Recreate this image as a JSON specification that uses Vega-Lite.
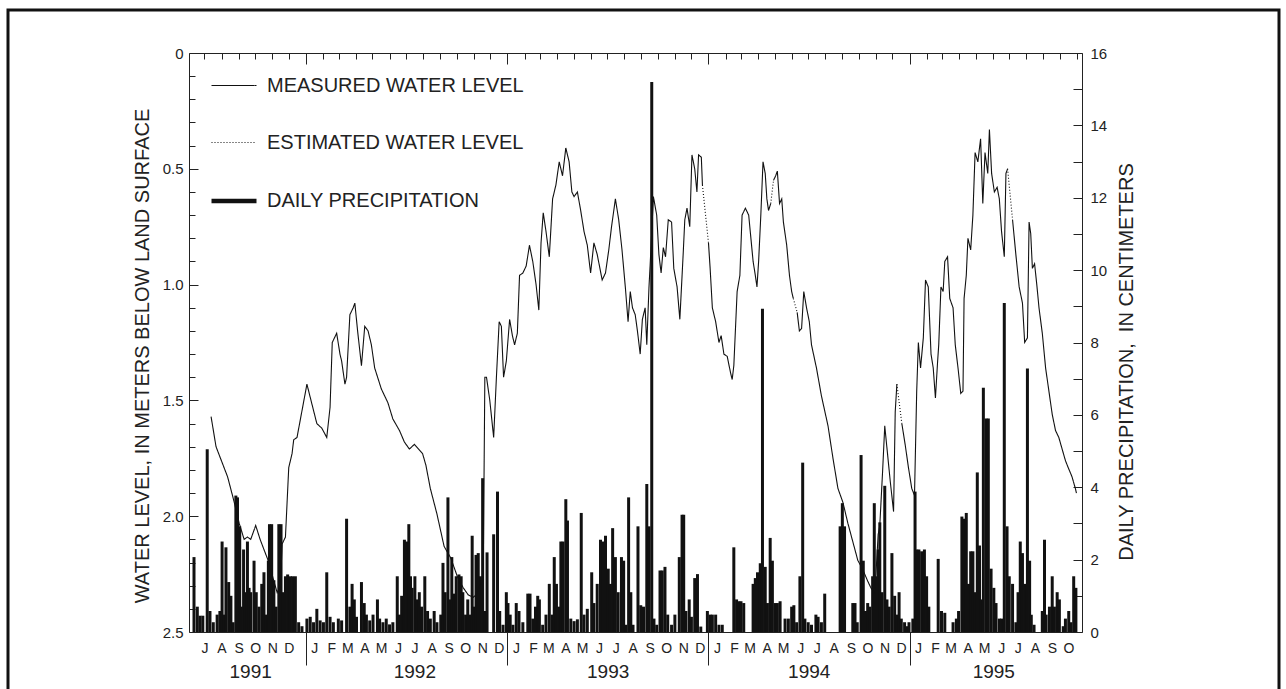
{
  "$schema": "https://vega.github.io/schema/vega-lite/v6.json",
  "width": 1271,
  "height": 683,
  "padding": {"left": 8, "top": 10, "right": 7, "bottom": 0},
  "autosize": {"type": "none"},
  "background": "white",
  "config": {
    "view": {"stroke": "#111", "strokeWidth": 3, "fill": "white"},
    "axis": {
      "grid": false,
      "domainColor": "#222",
      "domainWidth": 1,
      "tickColor": "#222",
      "tickWidth": 1,
      "labelColor": "#222",
      "labelFont": "Liberation Sans",
      "titleFont": "Liberation Sans",
      "titleFontWeight": "normal",
      "titleColor": "#222",
      "labelOverlap": false,
      "labelFlush": false,
      "labelBound": false
    }
  },
  "datasets": {
    "rain": [
      {"d":"1991-06-12","p":2.07},{"d":"1991-06-18","p":0.7},{"d":"1991-06-23","p":0.45},{"d":"1991-06-28","p":0.45},
      {"d":"1991-07-06","p":5.05},{"d":"1991-07-11","p":0.58},{"d":"1991-07-17","p":0.27},{"d":"1991-07-24","p":0.48},{"d":"1991-07-29","p":0.58},
      {"d":"1991-08-02","p":2.5},{"d":"1991-08-05","p":0.48},{"d":"1991-08-09","p":2.34},{"d":"1991-08-14","p":1.38},{"d":"1991-08-18","p":1.0},{"d":"1991-08-22","p":0.27},{"d":"1991-08-27","p":3.77},{"d":"1991-08-30","p":3.72},
      {"d":"1991-09-03","p":2.92},{"d":"1991-09-06","p":0.7},{"d":"1991-09-10","p":2.28},{"d":"1991-09-13","p":1.1},{"d":"1991-09-17","p":2.5},{"d":"1991-09-20","p":1.22},{"d":"1991-09-23","p":1.1},{"d":"1991-09-29","p":1.97},
      {"d":"1991-10-03","p":1.1},{"d":"1991-10-08","p":0.7},{"d":"1991-10-13","p":1.33},{"d":"1991-10-17","p":1.65},{"d":"1991-10-21","p":0.48},{"d":"1991-10-25","p":1.97},{"d":"1991-10-27","p":2.98},{"d":"1991-10-31","p":2.98},
      {"d":"1991-11-04","p":1.43},{"d":"1991-11-08","p":0.7},{"d":"1991-11-13","p":2.98},{"d":"1991-11-17","p":2.98},{"d":"1991-11-20","p":1.1},{"d":"1991-11-25","p":1.54},{"d":"1991-11-29","p":1.59},
      {"d":"1991-12-04","p":1.54},{"d":"1991-12-08","p":1.54},{"d":"1991-12-13","p":1.54},{"d":"1991-12-19","p":0.27},{"d":"1991-12-25","p":0.16},
      {"d":"1992-01-03","p":0.37},{"d":"1992-01-09","p":0.42},{"d":"1992-01-15","p":0.27},{"d":"1992-01-21","p":0.64},{"d":"1992-01-27","p":0.32},
      {"d":"1992-02-02","p":0.27},{"d":"1992-02-08","p":1.65},{"d":"1992-02-14","p":0.42},{"d":"1992-02-20","p":0.27},{"d":"1992-02-29","p":0.37},
      {"d":"1992-03-06","p":0.32},{"d":"1992-03-15","p":3.13},{"d":"1992-03-21","p":0.7},{"d":"1992-03-25","p":1.33},{"d":"1992-03-29","p":0.9},
      {"d":"1992-04-02","p":0.42},{"d":"1992-04-11","p":1.38},{"d":"1992-04-16","p":0.8},{"d":"1992-04-20","p":0.48},{"d":"1992-04-26","p":0.32},
      {"d":"1992-05-02","p":0.48},{"d":"1992-05-10","p":0.9},{"d":"1992-05-14","p":0.37},{"d":"1992-05-20","p":0.27},{"d":"1992-05-26","p":0.37},
      {"d":"1992-06-01","p":0.21},{"d":"1992-06-07","p":0.27},{"d":"1992-06-15","p":1.54},{"d":"1992-06-19","p":0.48},{"d":"1992-06-23","p":1.0},{"d":"1992-06-28","p":2.55},
      {"d":"1992-07-02","p":2.5},{"d":"1992-07-06","p":2.98},{"d":"1992-07-09","p":1.54},{"d":"1992-07-12","p":1.22},{"d":"1992-07-17","p":1.54},{"d":"1992-07-21","p":0.9},{"d":"1992-07-25","p":1.1},{"d":"1992-07-29","p":0.7},
      {"d":"1992-08-04","p":1.54},{"d":"1992-08-09","p":0.58},{"d":"1992-08-14","p":0.37},{"d":"1992-08-21","p":0.58},{"d":"1992-08-26","p":0.27},
      {"d":"1992-09-02","p":0.48},{"d":"1992-09-06","p":1.91},{"d":"1992-09-10","p":1.1},{"d":"1992-09-15","p":3.72},{"d":"1992-09-18","p":0.9},{"d":"1992-09-22","p":2.07},{"d":"1992-09-26","p":1.06},{"d":"1992-09-30","p":1.54},
      {"d":"1992-10-05","p":1.59},{"d":"1992-10-09","p":1.54},{"d":"1992-10-12","p":1.1},{"d":"1992-10-17","p":0.48},{"d":"1992-10-21","p":0.9},{"d":"1992-10-26","p":0.48},{"d":"1992-10-29","p":2.66},
      {"d":"1992-11-01","p":0.7},{"d":"1992-11-05","p":2.13},{"d":"1992-11-09","p":2.18},{"d":"1992-11-13","p":1.54},{"d":"1992-11-17","p":4.25},{"d":"1992-11-21","p":0.58},{"d":"1992-11-25","p":2.2},
      {"d":"1992-12-07","p":2.7},{"d":"1992-12-14","p":3.88},{"d":"1992-12-18","p":0.58},{"d":"1992-12-24","p":0.2},{"d":"1992-12-30","p":1.1},
      {"d":"1993-01-02","p":0.8},{"d":"1993-01-06","p":0.48},{"d":"1993-01-11","p":0.2},{"d":"1993-01-17","p":0.8},{"d":"1993-01-22","p":0.58},{"d":"1993-01-29","p":0.27},
      {"d":"1993-02-07","p":1.06},{"d":"1993-02-11","p":1.06},{"d":"1993-02-16","p":0.37},{"d":"1993-02-21","p":0.7},{"d":"1993-02-25","p":1.0},{"d":"1993-02-28","p":0.9},
      {"d":"1993-03-06","p":0.2},{"d":"1993-03-12","p":0.48},{"d":"1993-03-18","p":1.33},{"d":"1993-03-23","p":0.48},{"d":"1993-03-27","p":2.07},{"d":"1993-03-31","p":1.33},
      {"d":"1993-04-04","p":0.7},{"d":"1993-04-08","p":2.5},{"d":"1993-04-12","p":2.5},{"d":"1993-04-17","p":3.67},{"d":"1993-04-20","p":3.08},{"d":"1993-04-26","p":0.37},
      {"d":"1993-05-02","p":0.3},{"d":"1993-05-08","p":0.35},{"d":"1993-05-15","p":3.29},{"d":"1993-05-20","p":0.48},{"d":"1993-05-26","p":0.64},
      {"d":"1993-06-03","p":1.65},{"d":"1993-06-07","p":0.8},{"d":"1993-06-13","p":1.33},{"d":"1993-06-19","p":2.55},{"d":"1993-06-23","p":2.5},{"d":"1993-06-28","p":2.66},
      {"d":"1993-07-03","p":1.75},{"d":"1993-07-07","p":1.33},{"d":"1993-07-11","p":2.87},{"d":"1993-07-16","p":2.07},{"d":"1993-07-21","p":1.1},{"d":"1993-07-27","p":2.07},{"d":"1993-07-31","p":1.97},
      {"d":"1993-08-04","p":0.2},{"d":"1993-08-09","p":3.72},{"d":"1993-08-13","p":1.1},{"d":"1993-08-17","p":0.2},{"d":"1993-08-26","p":2.92},{"d":"1993-08-31","p":0.74},
      {"d":"1993-09-05","p":0.7},{"d":"1993-09-11","p":4.09},{"d":"1993-09-15","p":2.92},{"d":"1993-09-20","p":15.2},{"d":"1993-09-24","p":0.37},{"d":"1993-09-29","p":0.2},
      {"d":"1993-10-05","p":1.7},{"d":"1993-10-09","p":1.7},{"d":"1993-10-14","p":1.8},{"d":"1993-10-19","p":0.48},{"d":"1993-10-26","p":0.2},
      {"d":"1993-11-01","p":0.48},{"d":"1993-11-09","p":2.07},{"d":"1993-11-14","p":3.24},{"d":"1993-11-17","p":3.24},{"d":"1993-11-21","p":0.58},{"d":"1993-11-27","p":0.9},
      {"d":"1993-12-01","p":0.42},{"d":"1993-12-07","p":1.49},{"d":"1993-12-12","p":1.6},{"d":"1993-12-18","p":0.15},{"d":"1993-12-30","p":0.58},
      {"d":"1994-01-04","p":0.48},{"d":"1994-01-08","p":0.48},{"d":"1994-01-14","p":0.48},{"d":"1994-01-20","p":0.2},{"d":"1994-01-26","p":0.2},
      {"d":"1994-02-16","p":2.34},{"d":"1994-02-21","p":0.9},{"d":"1994-02-25","p":0.85},
      {"d":"1994-03-01","p":0.85},{"d":"1994-03-06","p":0.8},{"d":"1994-03-23","p":1.33},{"d":"1994-03-27","p":1.49},{"d":"1994-03-31","p":1.65},
      {"d":"1994-04-05","p":1.9},{"d":"1994-04-09","p":8.93},{"d":"1994-04-14","p":1.8},{"d":"1994-04-18","p":0.8},{"d":"1994-04-23","p":2.6},{"d":"1994-04-27","p":1.97},
      {"d":"1994-05-02","p":0.8},{"d":"1994-05-06","p":0.8},{"d":"1994-05-11","p":0.85},{"d":"1994-05-20","p":0.37},{"d":"1994-05-26","p":0.37},
      {"d":"1994-06-01","p":0.7},{"d":"1994-06-05","p":0.74},{"d":"1994-06-10","p":0.27},{"d":"1994-06-16","p":1.54},{"d":"1994-06-21","p":4.68},{"d":"1994-06-25","p":0.37},
      {"d":"1994-07-01","p":0.27},{"d":"1994-07-07","p":0.2},{"d":"1994-07-15","p":0.48},{"d":"1994-07-19","p":0.42},{"d":"1994-07-25","p":0.27},{"d":"1994-07-31","p":1.06},
      {"d":"1994-08-28","p":2.92},{"d":"1994-09-01","p":3.56},{"d":"1994-09-05","p":2.92},{"d":"1994-09-20","p":0.8},{"d":"1994-09-24","p":0.8},{"d":"1994-09-28","p":0.27},
      {"d":"1994-10-05","p":4.89},{"d":"1994-10-09","p":1.97},{"d":"1994-10-13","p":0.58},{"d":"1994-10-17","p":0.8},{"d":"1994-10-21","p":0.7},{"d":"1994-10-26","p":1.54},{"d":"1994-10-29","p":3.56},
      {"d":"1994-11-02","p":1.54},{"d":"1994-11-05","p":2.28},{"d":"1994-11-08","p":3.03},{"d":"1994-11-12","p":1.1},{"d":"1994-11-17","p":4.04},{"d":"1994-11-21","p":0.9},{"d":"1994-11-25","p":0.7},{"d":"1994-11-30","p":2.18},
      {"d":"1994-12-05","p":1.0},{"d":"1994-12-09","p":0.48},{"d":"1994-12-13","p":1.1},{"d":"1994-12-17","p":0.37},{"d":"1994-12-23","p":0.27},{"d":"1994-12-27","p":0.16},{"d":"1994-12-31","p":0.27},
      {"d":"1995-01-07","p":0.37},{"d":"1995-01-11","p":3.88},{"d":"1995-01-14","p":2.28},{"d":"1995-01-18","p":2.28},{"d":"1995-01-23","p":2.23},{"d":"1995-01-28","p":2.28},
      {"d":"1995-02-01","p":1.54},{"d":"1995-02-05","p":0.7},{"d":"1995-02-22","p":2.02},{"d":"1995-02-28","p":0.58},
      {"d":"1995-03-06","p":0.53},{"d":"1995-03-21","p":0.27},{"d":"1995-03-27","p":0.37},{"d":"1995-03-31","p":0.58},
      {"d":"1995-04-06","p":3.19},{"d":"1995-04-10","p":3.13},{"d":"1995-04-14","p":3.29},{"d":"1995-04-18","p":1.33},{"d":"1995-04-22","p":2.23},{"d":"1995-04-26","p":2.23},{"d":"1995-04-29","p":1.1},
      {"d":"1995-05-04","p":4.41},{"d":"1995-05-08","p":2.39},{"d":"1995-05-11","p":0.9},{"d":"1995-05-15","p":6.75},{"d":"1995-05-20","p":5.9},{"d":"1995-05-24","p":5.9},{"d":"1995-05-29","p":1.75},
      {"d":"1995-06-03","p":1.22},{"d":"1995-06-07","p":0.8},{"d":"1995-06-13","p":0.37},{"d":"1995-06-17","p":0.37},{"d":"1995-06-22","p":9.09},{"d":"1995-06-27","p":2.92},
      {"d":"1995-07-01","p":1.54},{"d":"1995-07-07","p":1.33},{"d":"1995-07-13","p":0.27},{"d":"1995-07-17","p":1.1},{"d":"1995-07-21","p":2.5},{"d":"1995-07-25","p":2.18},{"d":"1995-07-29","p":1.33},
      {"d":"1995-08-03","p":7.28},{"d":"1995-08-07","p":1.97},{"d":"1995-08-10","p":0.48},{"d":"1995-08-15","p":0.2},{"d":"1995-08-30","p":0.58},
      {"d":"1995-09-03","p":2.55},{"d":"1995-09-06","p":0.48},{"d":"1995-09-12","p":0.7},{"d":"1995-09-17","p":1.54},{"d":"1995-09-21","p":0.7},{"d":"1995-09-26","p":1.1},{"d":"1995-09-30","p":0.9},
      {"d":"1995-10-07","p":0.16},{"d":"1995-10-11","p":0.37},{"d":"1995-10-17","p":0.58},{"d":"1995-10-21","p":0.27},{"d":"1995-10-26","p":1.54},{"d":"1995-10-30","p":1.22}
    ],
    "level": [
      {"d":"1991-07-13","w":1.57,"k":"m","s":1},{"d":"1991-07-22","w":1.70,"k":"m","s":1},{"d":"1991-08-12","w":1.83,"k":"m","s":1},{"d":"1991-08-23","w":1.93,"k":"m","s":1},
      {"d":"1991-09-02","w":2.03,"k":"m","s":1},{"d":"1991-09-11","w":2.10,"k":"m","s":1},{"d":"1991-09-17","w":2.09,"k":"m","s":1},{"d":"1991-09-23","w":2.10,"k":"m","s":1},
      {"d":"1991-10-02","w":2.04,"k":"m","s":1},{"d":"1991-10-10","w":2.10,"k":"m","s":1},{"d":"1991-10-18","w":2.15,"k":"m","s":1},{"d":"1991-10-26","w":2.20,"k":"m","s":1},
      {"d":"1991-11-04","w":2.28,"k":"m","s":1},{"d":"1991-11-10","w":2.33,"k":"m","s":1},{"d":"1991-11-16","w":2.30,"k":"m","s":1},{"d":"1991-11-19","w":2.12,"k":"m","s":1},{"d":"1991-11-25","w":2.09,"k":"m","s":1},
      {"d":"1991-12-01","w":1.79,"k":"m","s":1},{"d":"1991-12-07","w":1.73,"k":"m","s":1},{"d":"1991-12-10","w":1.67,"k":"m","s":1},{"d":"1991-12-16","w":1.66,"k":"m","s":1},
      {"d":"1992-01-03","w":1.43,"k":"m","s":1},{"d":"1992-01-21","w":1.60,"k":"m","s":1},{"d":"1992-01-30","w":1.62,"k":"m","s":1},
      {"d":"1992-02-08","w":1.66,"k":"m","s":1},{"d":"1992-02-14","w":1.53,"k":"m","s":1},{"d":"1992-02-18","w":1.25,"k":"m","s":1},{"d":"1992-02-26","w":1.21,"k":"m","s":1},
      {"d":"1992-03-03","w":1.30,"k":"m","s":1},{"d":"1992-03-06","w":1.33,"k":"m","s":1},{"d":"1992-03-12","w":1.43,"k":"m","s":1},{"d":"1992-03-15","w":1.40,"k":"m","s":1},{"d":"1992-03-21","w":1.13,"k":"m","s":1},{"d":"1992-03-27","w":1.10,"k":"m","s":1},{"d":"1992-03-30","w":1.08,"k":"m","s":1},
      {"d":"1992-04-04","w":1.20,"k":"m","s":1},{"d":"1992-04-11","w":1.35,"k":"m","s":1},{"d":"1992-04-17","w":1.18,"k":"m","s":1},{"d":"1992-04-23","w":1.20,"k":"m","s":1},{"d":"1992-04-29","w":1.26,"k":"m","s":1},
      {"d":"1992-05-05","w":1.36,"k":"m","s":1},{"d":"1992-05-17","w":1.45,"k":"m","s":1},{"d":"1992-05-29","w":1.51,"k":"m","s":1},
      {"d":"1992-06-07","w":1.58,"k":"m","s":1},{"d":"1992-06-19","w":1.63,"k":"m","s":1},{"d":"1992-06-28","w":1.68,"k":"m","s":1},
      {"d":"1992-07-07","w":1.71,"k":"m","s":1},{"d":"1992-07-16","w":1.69,"k":"m","s":1},{"d":"1992-07-31","w":1.73,"k":"m","s":1},
      {"d":"1992-08-06","w":1.78,"k":"m","s":1},{"d":"1992-08-14","w":1.88,"k":"m","s":1},{"d":"1992-08-26","w":1.99,"k":"m","s":1},
      {"d":"1992-09-08","w":2.13,"k":"m","s":1},{"d":"1992-09-20","w":2.18,"k":"m","s":1},
      {"d":"1992-10-02","w":2.26,"k":"m","s":1},{"d":"1992-10-13","w":2.31,"k":"m","s":1},{"d":"1992-10-22","w":2.34,"k":"m","s":1},{"d":"1992-10-31","w":2.35,"k":"m","s":1},
      {"d":"1992-11-05","w":2.34,"k":"m","s":1},{"d":"1992-11-12","w":2.30,"k":"m","s":1},{"d":"1992-11-18","w":2.28,"k":"m","s":1},{"d":"1992-11-21","w":1.40,"k":"m","s":1},{"d":"1992-11-24","w":1.40,"k":"m","s":1},{"d":"1992-11-30","w":1.50,"k":"m","s":1},
      {"d":"1992-12-07","w":1.66,"k":"m","s":1},{"d":"1992-12-12","w":1.40,"k":"m","s":1},{"d":"1992-12-17","w":1.16,"k":"m","s":1},{"d":"1992-12-21","w":1.18,"k":"m","s":1},{"d":"1992-12-25","w":1.40,"k":"m","s":1},{"d":"1992-12-30","w":1.33,"k":"m","s":1},
      {"d":"1993-01-05","w":1.15,"k":"m","s":1},{"d":"1993-01-10","w":1.22,"k":"m","s":1},{"d":"1993-01-14","w":1.26,"k":"m","s":1},{"d":"1993-01-19","w":1.21,"k":"m","s":1},{"d":"1993-01-23","w":0.96,"k":"m","s":1},{"d":"1993-01-29","w":0.95,"k":"m","s":1},
      {"d":"1993-02-04","w":0.92,"k":"m","s":1},{"d":"1993-02-10","w":0.83,"k":"m","s":1},{"d":"1993-02-16","w":0.90,"k":"m","s":1},{"d":"1993-02-22","w":1.00,"k":"m","s":1},{"d":"1993-02-27","w":1.11,"k":"m","s":1},
      {"d":"1993-03-03","w":0.82,"k":"m","s":1},{"d":"1993-03-07","w":0.69,"k":"m","s":1},{"d":"1993-03-12","w":0.77,"k":"m","s":1},{"d":"1993-03-18","w":0.88,"k":"m","s":1},{"d":"1993-03-24","w":0.63,"k":"m","s":1},{"d":"1993-03-30","w":0.57,"k":"m","s":1},
      {"d":"1993-04-05","w":0.47,"k":"m","s":1},{"d":"1993-04-11","w":0.53,"k":"m","s":1},{"d":"1993-04-17","w":0.41,"k":"m","s":1},{"d":"1993-04-23","w":0.47,"k":"m","s":1},{"d":"1993-04-28","w":0.60,"k":"m","s":1},
      {"d":"1993-05-02","w":0.62,"k":"m","s":1},{"d":"1993-05-08","w":0.60,"k":"m","s":1},{"d":"1993-05-14","w":0.68,"k":"m","s":1},{"d":"1993-05-20","w":0.77,"k":"m","s":1},{"d":"1993-05-26","w":0.83,"k":"m","s":1},
      {"d":"1993-06-01","w":0.95,"k":"m","s":1},{"d":"1993-06-07","w":0.82,"k":"m","s":1},{"d":"1993-06-13","w":0.87,"k":"m","s":1},{"d":"1993-06-22","w":0.98,"k":"m","s":1},{"d":"1993-06-28","w":0.95,"k":"m","s":1},
      {"d":"1993-07-04","w":0.85,"k":"m","s":1},{"d":"1993-07-09","w":0.75,"k":"m","s":1},{"d":"1993-07-16","w":0.63,"k":"m","s":1},{"d":"1993-07-22","w":0.72,"k":"m","s":1},{"d":"1993-07-28","w":0.85,"k":"m","s":1},
      {"d":"1993-08-03","w":1.01,"k":"m","s":1},{"d":"1993-08-08","w":1.16,"k":"m","s":1},{"d":"1993-08-12","w":1.03,"k":"m","s":1},{"d":"1993-08-16","w":1.10,"k":"m","s":1},{"d":"1993-08-21","w":1.13,"k":"m","s":1},{"d":"1993-08-25","w":1.20,"k":"m","s":1},{"d":"1993-08-30","w":1.30,"k":"m","s":1},
      {"d":"1993-09-03","w":1.15,"k":"m","s":1},{"d":"1993-09-08","w":1.10,"k":"m","s":1},{"d":"1993-09-11","w":1.26,"k":"m","s":1},{"d":"1993-09-15","w":1.01,"k":"m","s":1},{"d":"1993-09-17","w":0.92,"k":"m","s":1},{"d":"1993-09-23","w":0.62,"k":"m","s":1},{"d":"1993-09-29","w":0.70,"k":"m","s":1},
      {"d":"1993-10-03","w":0.87,"k":"m","s":1},{"d":"1993-10-07","w":0.95,"k":"m","s":1},{"d":"1993-10-11","w":0.84,"k":"m","s":1},{"d":"1993-10-15","w":0.88,"k":"m","s":1},{"d":"1993-10-20","w":0.72,"k":"m","s":1},{"d":"1993-10-26","w":0.73,"k":"m","s":1},{"d":"1993-10-30","w":0.93,"k":"m","s":1},
      {"d":"1993-11-05","w":1.01,"k":"m","s":1},{"d":"1993-11-10","w":1.15,"k":"m","s":1},{"d":"1993-11-16","w":0.87,"k":"m","s":1},{"d":"1993-11-19","w":0.72,"k":"m","s":1},{"d":"1993-11-23","w":0.67,"k":"m","s":1},{"d":"1993-11-28","w":0.75,"k":"m","s":1},
      {"d":"1993-12-02","w":0.44,"k":"m","s":1},{"d":"1993-12-07","w":0.50,"k":"m","s":1},{"d":"1993-12-11","w":0.60,"k":"m","s":1},{"d":"1993-12-14","w":0.44,"k":"m","s":1},{"d":"1993-12-19","w":0.45,"k":"m","s":1},{"d":"1993-12-21","w":0.57,"k":"m","s":1},
      {"d":"1993-12-21","w":0.57,"k":"e","s":2},{"d":"1994-01-01","w":0.82,"k":"e","s":2},
      {"d":"1994-01-01","w":0.82,"k":"m","s":3},{"d":"1994-01-04","w":0.93,"k":"m","s":3},{"d":"1994-01-08","w":1.10,"k":"m","s":3},{"d":"1994-01-14","w":1.16,"k":"m","s":3},{"d":"1994-01-20","w":1.25,"k":"m","s":3},{"d":"1994-01-24","w":1.22,"k":"m","s":3},{"d":"1994-01-29","w":1.30,"k":"m","s":3},
      {"d":"1994-02-04","w":1.31,"k":"m","s":3},{"d":"1994-02-10","w":1.38,"k":"m","s":3},{"d":"1994-02-13","w":1.41,"k":"m","s":3},{"d":"1994-02-16","w":1.35,"k":"m","s":3},{"d":"1994-02-22","w":1.03,"k":"m","s":3},{"d":"1994-02-27","w":0.96,"k":"m","s":3},
      {"d":"1994-03-03","w":0.70,"k":"m","s":3},{"d":"1994-03-09","w":0.67,"k":"m","s":3},{"d":"1994-03-15","w":0.70,"k":"m","s":3},{"d":"1994-03-19","w":0.80,"k":"m","s":3},{"d":"1994-03-23","w":0.90,"k":"m","s":3},{"d":"1994-03-27","w":0.96,"k":"m","s":3},{"d":"1994-03-30","w":1.01,"k":"m","s":3},
      {"d":"1994-04-02","w":0.90,"k":"m","s":3},{"d":"1994-04-06","w":0.70,"k":"m","s":3},{"d":"1994-04-10","w":0.47,"k":"m","s":3},{"d":"1994-04-14","w":0.52,"k":"m","s":3},{"d":"1994-04-17","w":0.63,"k":"m","s":3},{"d":"1994-04-20","w":0.68,"k":"m","s":3},{"d":"1994-04-24","w":0.65,"k":"m","s":3},
      {"d":"1994-04-24","w":0.65,"k":"e","s":4},{"d":"1994-04-29","w":0.55,"k":"e","s":4},
      {"d":"1994-04-29","w":0.55,"k":"m","s":5},{"d":"1994-05-03","w":0.53,"k":"m","s":5},{"d":"1994-05-06","w":0.51,"k":"m","s":5},{"d":"1994-05-10","w":0.65,"k":"m","s":5},{"d":"1994-05-14","w":0.63,"k":"m","s":5},{"d":"1994-05-17","w":0.73,"k":"m","s":5},{"d":"1994-05-23","w":0.83,"k":"m","s":5},{"d":"1994-05-28","w":0.96,"k":"m","s":5},{"d":"1994-06-01","w":1.03,"k":"m","s":5},{"d":"1994-06-04","w":1.06,"k":"m","s":5},
      {"d":"1994-06-04","w":1.06,"k":"e","s":6},{"d":"1994-06-11","w":1.12,"k":"e","s":6},
      {"d":"1994-06-11","w":1.12,"k":"m","s":7},{"d":"1994-06-15","w":1.20,"k":"m","s":7},{"d":"1994-06-19","w":1.19,"k":"m","s":7},{"d":"1994-06-23","w":1.03,"k":"m","s":7},{"d":"1994-06-28","w":1.10,"k":"m","s":7},
      {"d":"1994-07-03","w":1.16,"k":"m","s":7},{"d":"1994-07-07","w":1.26,"k":"m","s":7},{"d":"1994-07-16","w":1.36,"k":"m","s":7},{"d":"1994-07-25","w":1.48,"k":"m","s":7},
      {"d":"1994-08-06","w":1.61,"k":"m","s":7},{"d":"1994-08-15","w":1.75,"k":"m","s":7},{"d":"1994-08-24","w":1.88,"k":"m","s":7},
      {"d":"1994-09-02","w":1.94,"k":"m","s":7},{"d":"1994-09-11","w":2.03,"k":"m","s":7},{"d":"1994-09-20","w":2.11,"k":"m","s":7},{"d":"1994-09-29","w":2.19,"k":"m","s":7},
      {"d":"1994-10-08","w":2.23,"k":"m","s":7},{"d":"1994-10-17","w":2.28,"k":"m","s":7},{"d":"1994-10-23","w":2.31,"k":"m","s":7},{"d":"1994-10-29","w":2.33,"k":"m","s":7},
      {"d":"1994-11-01","w":2.25,"k":"m","s":7},{"d":"1994-11-05","w":2.08,"k":"m","s":7},{"d":"1994-11-08","w":2.04,"k":"m","s":7},{"d":"1994-11-13","w":1.81,"k":"m","s":7},{"d":"1994-11-17","w":1.61,"k":"m","s":7},{"d":"1994-11-22","w":1.73,"k":"m","s":7},{"d":"1994-11-27","w":1.85,"k":"m","s":7},
      {"d":"1994-12-03","w":1.98,"k":"m","s":7},{"d":"1994-12-06","w":1.55,"k":"m","s":7},{"d":"1994-12-09","w":1.43,"k":"m","s":7},
      {"d":"1994-12-09","w":1.43,"k":"e","s":8},{"d":"1994-12-18","w":1.60,"k":"e","s":8},
      {"d":"1994-12-18","w":1.60,"k":"m","s":9},{"d":"1994-12-24","w":1.69,"k":"m","s":9},{"d":"1994-12-30","w":1.79,"k":"m","s":9},
      {"d":"1995-01-05","w":1.88,"k":"m","s":9},{"d":"1995-01-10","w":1.91,"k":"m","s":9},{"d":"1995-01-14","w":1.46,"k":"m","s":9},{"d":"1995-01-17","w":1.25,"k":"m","s":9},{"d":"1995-01-21","w":1.36,"k":"m","s":9},{"d":"1995-01-26","w":1.23,"k":"m","s":9},{"d":"1995-01-30","w":0.98,"k":"m","s":9},
      {"d":"1995-02-04","w":1.01,"k":"m","s":9},{"d":"1995-02-09","w":1.30,"k":"m","s":9},{"d":"1995-02-13","w":1.36,"k":"m","s":9},{"d":"1995-02-17","w":1.49,"k":"m","s":9},{"d":"1995-02-21","w":1.33,"k":"m","s":9},{"d":"1995-02-23","w":1.26,"k":"m","s":9},{"d":"1995-02-27","w":1.01,"k":"m","s":9},
      {"d":"1995-03-03","w":1.03,"k":"m","s":9},{"d":"1995-03-06","w":0.90,"k":"m","s":9},{"d":"1995-03-11","w":0.88,"k":"m","s":9},{"d":"1995-03-15","w":1.06,"k":"m","s":9},{"d":"1995-03-21","w":1.10,"k":"m","s":9},{"d":"1995-03-25","w":1.26,"k":"m","s":9},{"d":"1995-03-30","w":1.36,"k":"m","s":9},
      {"d":"1995-04-04","w":1.47,"k":"m","s":9},{"d":"1995-04-08","w":1.46,"k":"m","s":9},{"d":"1995-04-10","w":1.06,"k":"m","s":9},{"d":"1995-04-14","w":0.96,"k":"m","s":9},{"d":"1995-04-17","w":0.80,"k":"m","s":9},{"d":"1995-04-22","w":0.85,"k":"m","s":9},{"d":"1995-04-26","w":0.70,"k":"m","s":9},{"d":"1995-04-30","w":0.43,"k":"m","s":9},
      {"d":"1995-05-05","w":0.47,"k":"m","s":9},{"d":"1995-05-10","w":0.37,"k":"m","s":9},{"d":"1995-05-14","w":0.65,"k":"m","s":9},{"d":"1995-05-18","w":0.43,"k":"m","s":9},{"d":"1995-05-23","w":0.52,"k":"m","s":9},{"d":"1995-05-26","w":0.33,"k":"m","s":9},{"d":"1995-05-30","w":0.52,"k":"m","s":9},
      {"d":"1995-06-04","w":0.60,"k":"m","s":9},{"d":"1995-06-09","w":0.58,"k":"m","s":9},{"d":"1995-06-13","w":0.63,"k":"m","s":9},{"d":"1995-06-17","w":0.77,"k":"m","s":9},{"d":"1995-06-22","w":0.88,"k":"m","s":9},{"d":"1995-06-25","w":0.52,"k":"m","s":9},{"d":"1995-06-28","w":0.50,"k":"m","s":9},
      {"d":"1995-06-28","w":0.50,"k":"e","s":10},{"d":"1995-07-07","w":0.72,"k":"e","s":10},
      {"d":"1995-07-07","w":0.72,"k":"m","s":11},{"d":"1995-07-13","w":0.87,"k":"m","s":11},{"d":"1995-07-19","w":1.01,"k":"m","s":11},{"d":"1995-07-25","w":1.08,"k":"m","s":11},{"d":"1995-07-29","w":1.25,"k":"m","s":11},
      {"d":"1995-08-03","w":1.23,"k":"m","s":11},{"d":"1995-08-06","w":0.73,"k":"m","s":11},{"d":"1995-08-09","w":0.78,"k":"m","s":11},{"d":"1995-08-12","w":0.93,"k":"m","s":11},{"d":"1995-08-16","w":0.91,"k":"m","s":11},{"d":"1995-08-20","w":1.00,"k":"m","s":11},{"d":"1995-08-24","w":1.10,"k":"m","s":11},{"d":"1995-08-30","w":1.21,"k":"m","s":11},
      {"d":"1995-09-05","w":1.36,"k":"m","s":11},{"d":"1995-09-11","w":1.46,"k":"m","s":11},{"d":"1995-09-17","w":1.56,"k":"m","s":11},{"d":"1995-09-23","w":1.63,"k":"m","s":11},{"d":"1995-09-29","w":1.66,"k":"m","s":11},
      {"d":"1995-10-05","w":1.71,"k":"m","s":11},{"d":"1995-10-11","w":1.76,"k":"m","s":11},{"d":"1995-10-16","w":1.79,"k":"m","s":11},{"d":"1995-10-23","w":1.83,"k":"m","s":11},{"d":"1995-10-29","w":1.88,"k":"m","s":11},{"d":"1995-10-31","w":1.90,"k":"m","s":11}
    ]
  },
  "resolve": {
    "scale": {"y": "independent"},
    "axis": {"x": "independent", "y": "independent"}
  },
  "layer": [
    {
      "data": {"name": "rain"},
      "mark": {"type": "bar", "width": 3, "color": "#111"},
      "encoding": {
        "x": {
          "field": "d", "type": "temporal",
          "scale": {"domain": [{"year": 1991, "month": 6, "date": 12}, {"year": 1995, "month": 11, "date": 1}], "range": [181, 1074]},
          "axis": {
            "orient": "bottom", "offset": -61, "title": null,
            "tickCount": {"interval": "month", "step": 1},
            "ticks": false, "domain": true,
            "labelOffset": {"condition": {"test": "year(datum.value) == 1991", "value": 0}, "value": 8.5},
            "labelPadding": 9, "labelFontSize": 14,
            "labelExpr": "year(datum.value) == 1995 && month(datum.value) >= 10 ? '' : slice(timeFormat(datum.value, '%b'), 0, 1)"
          }
        },
        "y": {
          "field": "p", "type": "quantitative",
          "scale": {"domain": [0, 16], "range": [622, 43], "nice": false, "zero": true},
          "axis": {
            "orient": "right", "offset": -197,
            "values": [0, 1, 2, 3, 4, 5, 6, 7, 8, 9, 10, 11, 12, 13, 14, 15, 16],
            "tickSize": -9, "labelPadding": 17, "labelFontSize": 15,
            "labelExpr": "datum.value % 2 == 0 ? datum.label : ''",
            "title": "DAILY PRECIPITATION,\u00a0 IN CENTIMETERS",
            "titleFontSize": 20, "titleAngle": 270, "titleX": 44, "titleY": 351.5,
            "titleAlign": "center", "titleBaseline": "middle"
          }
        }
      }
    },
    {
      "data": {"name": "level"},
      "mark": {"type": "line", "color": "#111"},
      "encoding": {
        "x": {
          "field": "d", "type": "temporal",
          "scale": {"domain": [{"year": 1991, "month": 6, "date": 12}, {"year": 1995, "month": 11, "date": 1}], "range": [181, 1074]},
          "axis": {
            "orient": "bottom", "offset": -61, "title": null,
            "tickCount": {"interval": "year", "step": 1},
            "tickSize": 33, "labels": false, "domain": false
          }
        },
        "y": {
          "field": "w", "type": "quantitative",
          "scale": {"domain": [0, 2.5], "range": [43, 622], "nice": false, "zero": false},
          "axis": {
            "orient": "left", "offset": -181,
            "values": [0, 0.1, 0.2, 0.3, 0.4, 0.5, 0.6, 0.7, 0.8, 0.9, 1.0, 1.1, 1.2, 1.3, 1.4, 1.5, 1.6, 1.7, 1.8, 1.9, 2.0, 2.1, 2.2, 2.3, 2.4, 2.5],
            "tickSize": {"condition": {"test": "abs(datum.value * 2 - round(datum.value * 2)) < 0.001", "value": -9}, "value": -6},
            "labelPadding": 15, "labelFontSize": 15,
            "labelExpr": "abs(datum.value * 2 - round(datum.value * 2)) < 0.001 ? (datum.value == 0 ? '0' : format(datum.value, '.1f')) : ''",
            "title": "WATER LEVEL, IN METERS BELOW LAND SURFACE",
            "titleFontSize": 20, "titleAngle": 270, "titleX": -47, "titleY": 345.5,
            "titleAlign": "center", "titleBaseline": "middle"
          }
        },
        "detail": {"field": "s", "type": "nominal"},
        "strokeDash": {
          "field": "k", "type": "nominal",
          "scale": {"domain": ["m", "e", "p"], "range": [[1, 0], [1, 2], [1, 0]]},
          "legend": {
            "title": null, "orient": "none", "legendX": 201, "legendY": 52, "padding": 0,
            "symbolType": "stroke", "symbolSize": 2025, "symbolStrokeColor": "#111",
            "labelFont": "Liberation Sans", "labelFontSize": 20, "labelColor": "#222", "labelOffset": 8, "labelLimit": 400,
            "rowPadding": 23,
            "labelExpr": "datum.value == 'm' ? 'MEASURED WATER LEVEL' : datum.value == 'e' ? 'ESTIMATED WATER LEVEL' : 'DAILY PRECIPITATION'"
          }
        },
        "strokeWidth": {
          "field": "k", "type": "nominal",
          "scale": {"type": "ordinal", "domain": ["m", "e", "p"], "range": [1.1, 1.1, 4.5]},
          "legend": {
            "title": null, "orient": "none", "legendX": 201, "legendY": 52, "padding": 0,
            "symbolType": "stroke", "symbolSize": 2025, "symbolStrokeColor": "#111",
            "labelFont": "Liberation Sans", "labelFontSize": 20, "labelColor": "#222", "labelOffset": 8, "labelLimit": 400,
            "rowPadding": 23,
            "labelExpr": "datum.value == 'm' ? 'MEASURED WATER LEVEL' : datum.value == 'e' ? 'ESTIMATED WATER LEVEL' : 'DAILY PRECIPITATION'"
          }
        }
      }
    },
    {
      "data": {"values": []},
      "mark": "point",
      "encoding": {
        "x": {
          "field": "d", "type": "temporal",
          "scale": {"domain": [{"year": 1991, "month": 6, "date": 12}, {"year": 1995, "month": 11, "date": 1}], "range": [181, 1074]},
          "axis": {
            "orient": "top", "offset": -43, "title": null,
            "tickCount": {"interval": "month", "step": 1},
            "tickSize": {"condition": {"test": "month(datum.value) == 0", "value": -11}, "value": -6},
            "labels": false, "domain": true
          }
        }
      }
    },
    {
      "data": {"values": []},
      "mark": "point",
      "encoding": {
        "x": {
          "field": "d", "type": "temporal",
          "scale": {"domain": [{"year": 1991, "month": 6, "date": 12}, {"year": 1995, "month": 11, "date": 1}], "range": [181, 1074]},
          "axis": {
            "orient": "bottom", "offset": -61, "title": null,
            "values": [
              {"year": 1991, "month": 9, "date": 22},
              {"year": 1992, "month": 7, "date": 16},
              {"year": 1993, "month": 7, "date": 2},
              {"year": 1994, "month": 7, "date": 2},
              {"year": 1995, "month": 6, "date": 2}
            ],
            "format": "%Y", "ticks": false, "domain": false,
            "labelPadding": 30, "labelFontSize": 19
          }
        }
      }
    }
  ]
}
